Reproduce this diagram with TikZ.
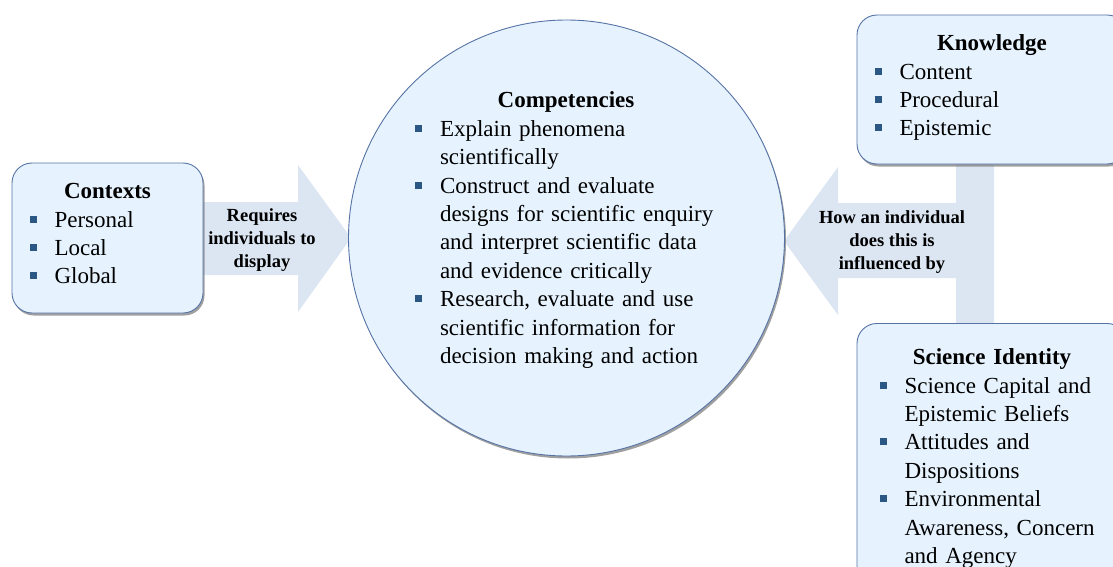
\documentclass[tikz,border=0pt]{standalone}
\usepackage{fontspec}
\setmainfont{Liberation Serif}
\usetikzlibrary{positioning,shadows,backgrounds}

\definecolor{boxfill}{HTML}{E6F3FE}
\definecolor{boxline}{HTML}{5673A6}
\definecolor{arrowfill}{HTML}{DCE6F2}
\definecolor{bulletblue}{HTML}{2A5783}

\newcommand\sqbul{\textcolor{bulletblue}{\rule[4.5pt]{7pt}{7pt}}}
\newcommand\boxlist[2]{{\centering\textbf{#1}\par}\noindent
  \begin{tabular}[t]{@{}l@{\hspace{18pt}}l@{}}#2\end{tabular}}

\tikzset{
  box/.style={draw=boxline,line width=0.9pt,fill=boxfill,rounded corners=20pt,
    drop shadow={shadow xshift=1.5pt,shadow yshift=-2.5pt,opacity=0.75},
    align=left,inner ysep=0pt,font=\fontsize{23}{28.4}\selectfont},
  bigarrow/.style={fill=arrowfill},
  arrowtext/.style={align=center,font=\fontsize{18.5}{23}\selectfont\bfseries},
}

\begin{document}
\begin{tikzpicture}[x=1pt,y=-1pt]

  \useasboundingbox (0,0) rectangle (1113,567);

  %% the big circle
  \node[circle,draw=boxline,line width=0.9pt,fill=boxfill,minimum size=436pt,
    drop shadow={shadow xshift=1.5pt,shadow yshift=-2.5pt,opacity=0.75}] (comp) at (566.5,238) {};
  \node[text width=302pt,align=left,font=\fontsize{23}{28.4}\selectfont] (comptxt) at (566,232)
  {\boxlist{Competencies}{
      \sqbul & Explain phenomena\\
             & scientifically\\
      \sqbul & Construct and evaluate\\
             & designs for scientific enquiry\\
             & and interpret scientific data\\
             & and evidence critically\\
      \sqbul & Research, evaluate and use\\
             & scientific information for\\
             & decision making and action}};

  %% the three boxes
  \node[box,text width=156pt,inner xsep=17.5pt,minimum height=150pt] (ctx) at (107.5,238)
  {\boxlist{Contexts}{
      \sqbul & Personal\\
      \sqbul & Local\\
      \sqbul & Global}};

  \node[box,text width=235pt,inner xsep=17.5pt,minimum height=149pt] (know) at (992,89.5)
  {\boxlist{Knowledge}{
      \sqbul & Content\\
      \sqbul & Procedural\\
      \sqbul & Epistemic}};

  \node[box,text width=225pt,inner xsep=22.5pt,minimum height=274pt,anchor=north] (sci) at (992,323)
  {\boxlist{Science Identity}{
      \sqbul & Science Capital and\\
             & Epistemic Beliefs\\
      \sqbul & Attitudes and\\
             & Dispositions\\
      \sqbul & Environmental\\
             & Awareness, Concern\\
             & and Agency}};

  %% block arrows behind everything
  \begin{scope}[on background layer]
    \fill[bigarrow] (150,202) -- (298,202) -- (298,165) -- ([xshift=3pt]comp.west)
      -- (298,312) -- (298,275) -- (150,275) -- cycle; %% ctx -> comp
    \fill[bigarrow] ([xshift=-36pt,yshift=10pt]know.south) -- ([xshift=2pt,yshift=10pt]know.south)
      -- ([xshift=2pt,yshift=-10pt]sci.north) -- ([xshift=-36pt,yshift=-10pt]sci.north)
      -- (956,278) -- (838,278) -- (838,315) -- ([xshift=-1pt,yshift=-3pt]comp.east)
      -- (838,167) -- (838,203) -- (956,203) -- cycle; %% know, sci -> comp
  \end{scope}

  \node[arrowtext] (req) at (262,240) {Requires\\individuals to\\display};
  \node[arrowtext] (infl) at (892,242) {How an individual\\does this is\\influenced by};

\end{tikzpicture}
\end{document}
